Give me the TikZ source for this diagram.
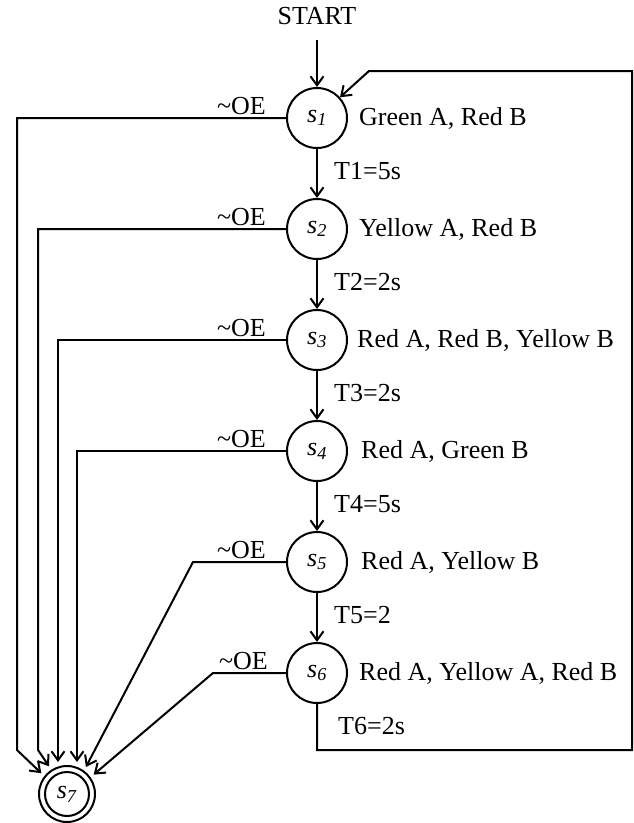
\documentclass[tikz,border=0pt]{standalone}
\usepackage{fontspec}
\setmainfont{Liberation Serif}
\usetikzlibrary{arrows.meta}
\begin{document}
\begin{tikzpicture}[x=1pt,y=-1pt,
  every node/.style={font=\fontsize{26}{30}\selectfont, inner sep=2pt},
  state/.style={draw, circle, line width=2pt, minimum size=60pt, inner sep=0pt},
  conn/.style={line width=2pt},
  arr/.style={conn, -{Straight Barb[length=9pt,width=13pt,line width=2pt]}},
  lab/.style={anchor=west},
  oe/.style={anchor=base east},
]
\useasboundingbox (0,0) rectangle (634,823);
% start
\node (start) at (317,16) {START};
% states
\node[state] (s1) at (317,118) {\textit{s}\textsubscript{\textit{1}}};
\node[state] (s2) at (317,229) {\textit{s}\textsubscript{\textit{2}}};
\node[state] (s3) at (317,340) {\textit{s}\textsubscript{\textit{3}}};
\node[state] (s4) at (317,451) {\textit{s}\textsubscript{\textit{4}}};
\node[state] (s5) at (317,562) {\textit{s}\textsubscript{\textit{5}}};
\node[state] (s6) at (317,673) {\textit{s}\textsubscript{\textit{6}}};
\node[draw, circle, line width=2pt, minimum size=44pt, inner sep=0pt, outer sep=11pt] (s7) at (67,794) {\textit{s}\textsubscript{\textit{7}}};
\draw[conn] (s7.center) circle[radius=28pt];
% state outputs
\node[lab] (d1) at (357,118) {Green A, Red B};
\node[lab] (d2) at (357,229) {Yellow A, Red B};
\node[lab] (d3) at (355,340) {Red A, Red B, Yellow B};
\node[lab] (d4) at (359,451) {Red A, Green B};
\node[lab] (d5) at (359,562) {Red A, Yellow B};
\node[lab] (d6) at (357,673) {Red A, Yellow A, Red B};
% timers
\node[lab] (t1) at (332,171) {T1=5s};
\node[lab] (t2) at (332,282) {T2=2s};
\node[lab] (t3) at (332,393) {T3=2s};
\node[lab] (t4) at (332,504) {T4=5s};
\node[lab] (t5) at (332,615) {T5=2};
\node[lab] (t6) at (336,726) {T6=2s};
% ~OE labels
\node[oe] (o1) at (268,114) {\textasciitilde OE};
\node[oe] (o2) at (268,225) {\textasciitilde OE};
\node[oe] (o3) at (268,336) {\textasciitilde OE};
\node[oe] (o4) at (268,447) {\textasciitilde OE};
\node[oe] (o5) at (268,558) {\textasciitilde OE};
\node[oe] (o6) at (270,669) {\textasciitilde OE};
% main chain
\draw[arr, shorten <=13pt] (start) -- (s1);
\draw[arr] (s1) -- (s2);
\draw[arr] (s2) -- (s3);
\draw[arr] (s3) -- (s4);
\draw[arr] (s4) -- (s5);
\draw[arr] (s5) -- (s6);
% feedback loop
\coordinate (f1) at (317,750);
\coordinate (f2) at (632,750);
\coordinate (f3) at (632,71);
\coordinate (f4) at (369,71);
\draw[arr] (s6) -- (f1) -- (f2) -- (f3) -- (f4) -- (s1);
% ~OE connectors
\coordinate (v1) at (17,750);
\coordinate (v2) at (38,750);
\coordinate (v3) at (58,762);
\coordinate (v4) at (77,762);
\coordinate (v5) at (193,562);
\coordinate (v6) at (213,673);
\draw[arr] (s1.west) -| (v1) -- (s7.141);
\draw[arr] (s2.west) -| (v2) -- (s7.123);
\draw[arr] (s3.west) -| (v3);
\draw[arr] (s4.west) -| (v4);
\draw[arr] (s5.west) -- (v5) -- (s7.55);
\draw[arr] (s6.west) -- (v6) -- (s7.36);
\end{tikzpicture}
\end{document}
